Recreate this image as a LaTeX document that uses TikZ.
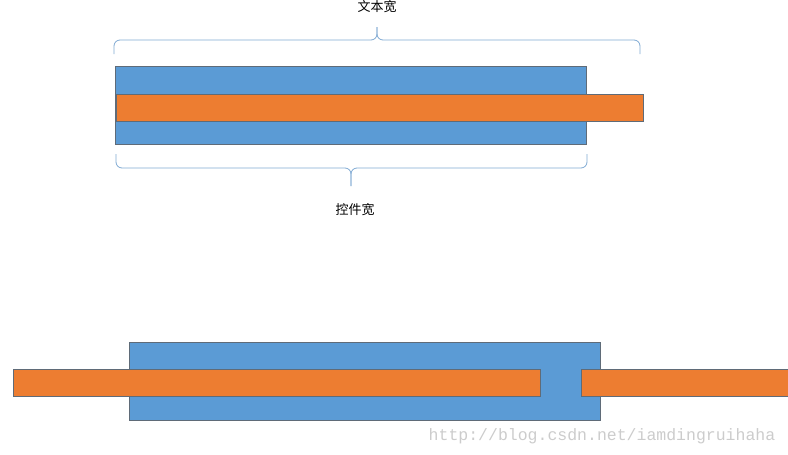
\documentclass[tikz,border=0pt]{standalone}
\usepackage{fontspec}
\newfontfamily\cjk{Noto Sans CJK SC}
\setmonofont{Liberation Mono}
\definecolor{barblue}{HTML}{5B9BD5}
\definecolor{barorange}{HTML}{ED7D31}
\definecolor{bargray}{HTML}{5F6B78}
\definecolor{bracecol}{HTML}{7FA9D3}
\begin{document}
\begin{tikzpicture}[x=1pt, y=-1pt,
  box node/.style={draw=bargray, thin, anchor=north west, inner sep=0pt, outer sep=0pt},
  blue node/.style={box node, fill=barblue, minimum width=471pt, minimum height=78pt},
  orange node/.style={box node, fill=barorange, minimum height=27pt},
  brace line/.style={draw=bracecol, line width=0.8pt, rounded corners=6pt},
  label node/.style={font=\cjk\fontsize{13}{13}\selectfont, inner sep=0pt}]
  \useasboundingbox (0,0) rectangle (788,455);

  % upper case
  \node[blue node] (b0) at (115,66) {};
  \node[orange node, minimum width=527pt] (o0) at (116,94) {};
  \coordinate (t0) at (114,54);
  \coordinate (t1) at (640,54);
  \coordinate (tm) at (377,40);
  \coordinate (tt) at (377,27);
  \path[brace line] (t0) |- (tm) -- (tt);
  \path[brace line] (t1) |- (tm) -- (tt);
  \node[label node] (l0) at (377,7) {文本宽};
  \coordinate (u0) at (116,154);
  \coordinate (u1) at (587,154);
  \coordinate (um) at (351,168);
  \coordinate (ut) at (351,186);
  \path[brace line] (u0) |- (um) -- (ut);
  \path[brace line] (u1) |- (um) -- (ut);
  \node[label node] (l1) at (355,210) {控件宽};

  % lower case
  \node[blue node] (b1) at (129,342) {};
  \node[orange node, minimum width=527pt] (o1) at (13,369) {};
  \node[orange node, minimum width=220pt] (o2) at (581,369) {};

  \node[font=\ttfamily\fontsize{16.5}{16.5}\selectfont, text=gray!40, inner sep=0pt] (w0) at (602,436) {http://blog.csdn.net/iamdingruihaha};
\end{tikzpicture}
\end{document}
